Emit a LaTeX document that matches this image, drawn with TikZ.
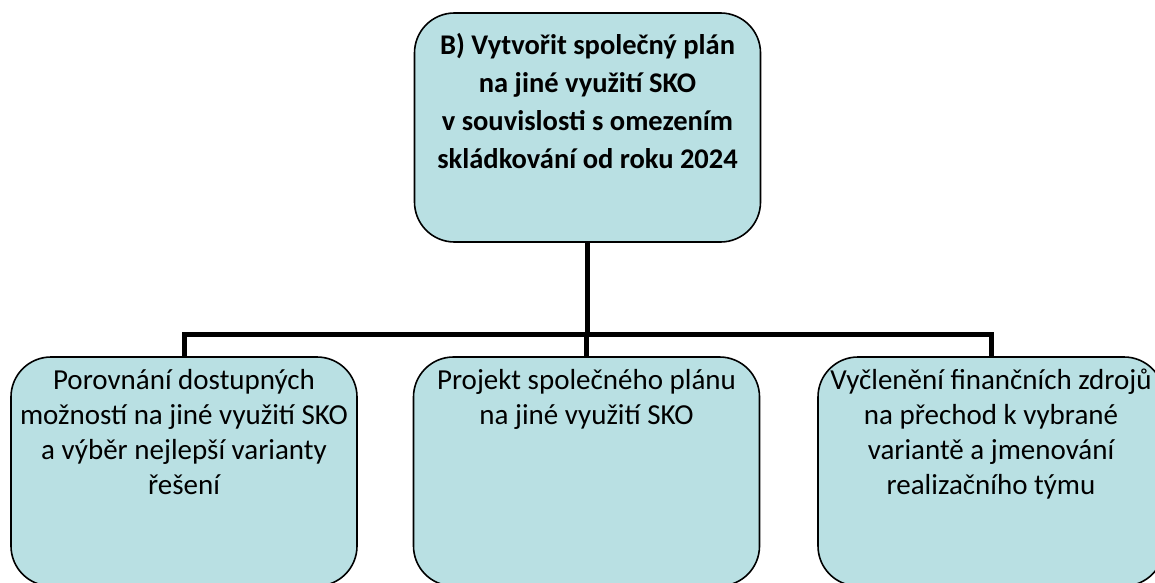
\documentclass[tikz,border=0pt]{standalone}
\usepackage{fontspec}
\setmainfont{Carlito}
\definecolor{boxfill}{RGB}{185,224,227}
\begin{document}
\begin{tikzpicture}[x=1pt,y=1pt,
  box/.style={draw=black, line width=1.6pt, fill=boxfill, rounded corners=40pt,
    minimum width=346pt, minimum height=229pt, inner sep=0pt},
  conn/.style={draw=black, line width=5pt},
  toptxt/.style={align=center, inner sep=0pt, anchor=north, font=\bfseries\fontsize{28.5}{38}\selectfont},
  subtxt/.style={align=center, inner sep=0pt, anchor=north, font=\fontsize{29}{35}\selectfont}]
\useasboundingbox (0,0) rectangle (1155,582);
\clip (0,0) rectangle (1155,582);
\node[box] (top) at (587.5,454.5) {};
\node[box] (left) at (184,110.5) {};
\node[box] (mid) at (586.5,110.5) {};
\node[box] (right) at (991,110.5) {};
\coordinate (bar) at (587,248);
\draw[conn] (top.south) -- (top.south |- bar);
\draw[conn] (left.north) -- (left.north |- bar) -- (right.north |- bar) -- (right.north);
\draw[conn] (mid.north |- bar) -- (mid.north);
\node[toptxt] (toptext) at ([yshift=-21pt]top.north) {B) Vytvořit společný plán\\na jiné využití SKO\\v souvislosti s omezením\\skládkování od roku 2024};
\node[subtxt] (lefttext) at ([yshift=-13pt]left.north) {Porovnání dostupných\\možností na jiné využití SKO\\a výběr nejlepší varianty\\řešení};
\node[subtxt] (midtext) at ([yshift=-13pt]mid.north) {Projekt společného plánu\\na jiné využití SKO};
\node[subtxt] (righttext) at ([yshift=-13pt]right.north) {Vyčlenění finančních zdrojů\\na přechod k vybrané\\variantě a jmenování\\realizačního týmu};
\end{tikzpicture}
\end{document}
